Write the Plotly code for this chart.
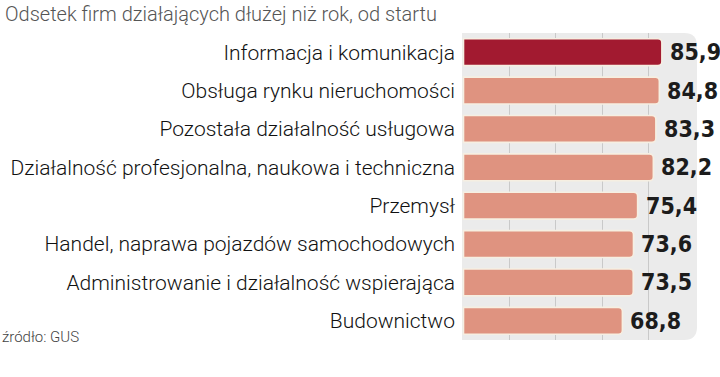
import plotly.graph_objects as go

categories = [
    "Informacja i komunikacja",
    "Obsługa rynku nieruchomości",
    "Pozostała działalność usługowa",
    "Działalność profesjonalna, naukowa i techniczna",
    "Przemysł",
    "Handel, naprawa pojazdów samochodowych",
    "Administrowanie i działalność wspierająca",
    "Budownictwo",
]
values = [85.9, 84.8, 83.3, 82.2, 75.4, 73.6, 73.5, 68.8]
labels = ["85,9", "84,8", "83,3", "82,2", "75,4", "73,6", "73,5", "68,8"]
title_text = "Odsetek firm działających dłużej niż rok, od startu"
source_text = "źródło: GUS"

colors = ["#a21a30"] + ["#df9380"] * (len(values) - 1)

fig = go.Figure()
fig.add_trace(go.Bar(
    x=values, y=categories, orientation="h",
    marker=dict(color=colors, line=dict(color="#f6efe2", width=1.6)),
    hoverinfo="skip",
))

for c, v, t in zip(categories, values, labels):
    fig.add_annotation(
        x=v, y=c, xref="x", yref="y", text=t, showarrow=False,
        xanchor="left", yanchor="middle", xshift=6, yshift=0,
        font=dict(family="DejaVu Sans Condensed", size=23, color="#1c1c1c", weight="bold"),
    )

# rounded grey panel (paper coords of plot area)
W, H = 235.0, 307.0
r = 13.0
rx, ry = r / W, r / H
x1 = 1.0
path = (
    f"M 0,0 L {x1 - rx},0 Q {x1},0 {x1},{ry} "
    f"L {x1},{1 - ry} Q {x1},1 {x1 - rx},1 L 0,1 Z"
)
fig.add_shape(type="path", path=path, xref="paper", yref="paper",
              fillcolor="#ebebeb", line=dict(width=0), layer="below")

fig.add_annotation(
    x=0, y=1, xref="paper", yref="paper", xanchor="left", yanchor="top",
    text=title_text, showarrow=False, xshift=-462 + 3, yshift=33,
    font=dict(family="Roboto", size=20, color="#555555", weight=300),
)
fig.add_annotation(
    x=0, y=0, xref="paper", yref="paper", xanchor="left", yanchor="middle",
    text=source_text, showarrow=False, xshift=-462 + 0, yshift=3,
    font=dict(family="Roboto", size=15, color="#444444", weight=300),
)

fig.update_layout(
    width=720, height=377,
    margin=dict(l=462, r=23, t=33, b=37),
    paper_bgcolor="white", plot_bgcolor="rgba(0,0,0,0)",
    bargap=0.3, barcornerradius=4,
    showlegend=False,
    xaxis=dict(range=[-0.65, 101.1], tickvals=[20, 40, 60, 80], showticklabels=False,
               showgrid=True, gridcolor="#c9c9c9", gridwidth=1, zeroline=False,
               showline=False, fixedrange=True),
    yaxis=dict(autorange="reversed", showgrid=False, zeroline=False, showline=False,
               ticks="", ticklabelstandoff=6,
               tickfont=dict(family="Roboto", size=21, color="#111111", weight=300)),
)

fig.write_html("out.html")
